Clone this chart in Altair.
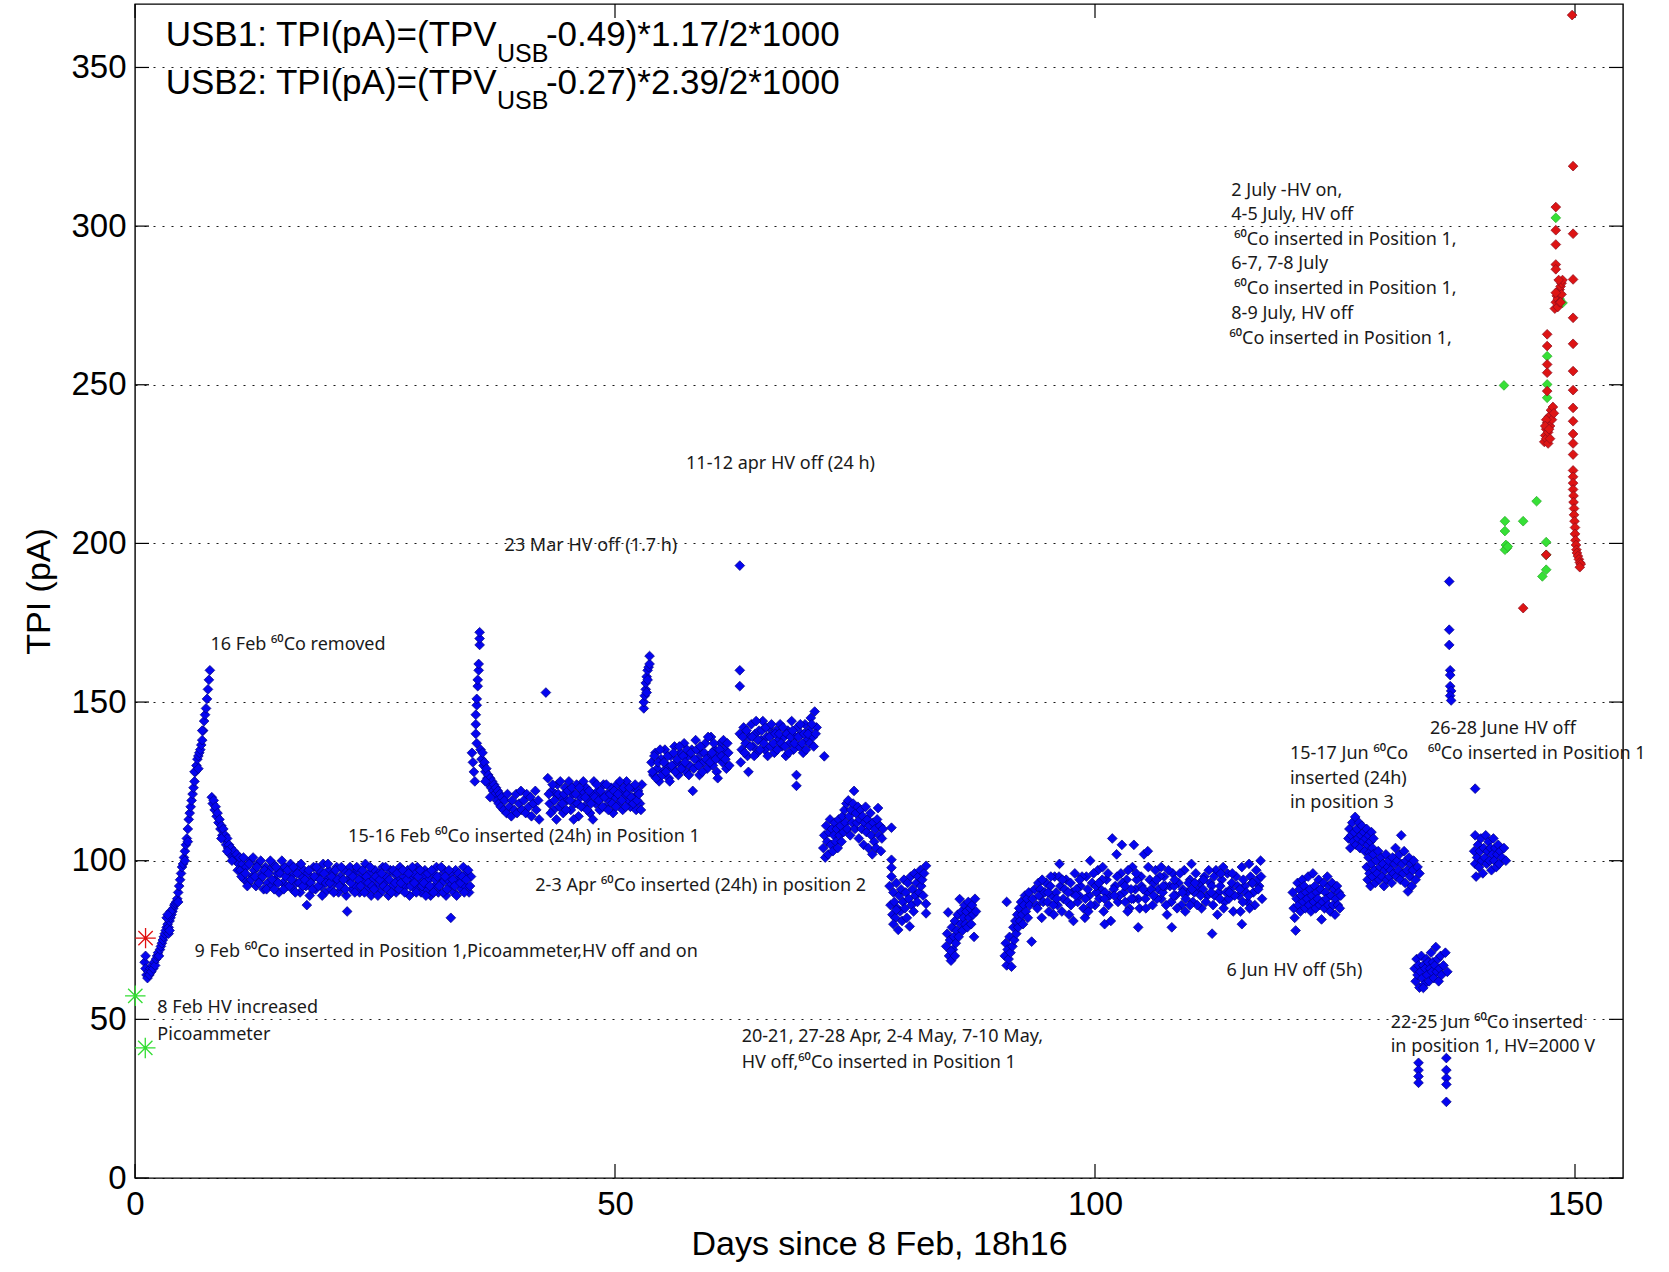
import altair as alt
import pandas as pd

# ---------------- data ----------------
# blue series (TPI, pA) by segment: (days, pA)
SEG_A = [(1.0,68),(1.1,70),(1.1,66),(1.2,64),(1.3,63),(1.4,65),(1.5,64),(1.6,66),(1.7,65),(1.8,67),
         (1.9,66),(2.0,68),(2.1,67),(2.2,69),(2.3,70),(2.4,71),(2.5,70),(2.6,72),(2.7,73),(2.8,74),
         (2.9,75),(3.0,76),(3.1,77),(3.2,78),(3.3,79),(3.4,80),(3.5,79),(3.6,81),(3.7,82),(3.8,83),
         (3.9,84),(4.0,85),(4.1,86),(4.2,86.5),(4.3,87),(4.4,88),(4.5,90),(4.6,92),(4.7,94),(4.8,96),
         (4.9,98),(5.0,99),(5.1,101),(5.2,103),(5.3,105),(5.4,107),(5.5,110),(5.6,113),(5.7,115),(5.8,117),
         (5.9,119),(6.0,121),(6.1,123),(6.2,125),(6.3,128),(6.4,130),(6.5,132),(6.6,133),(6.7,134),(6.8,135),
         (6.9,136.5),(7.0,138),(7.1,141),(7.2,144),(7.3,146),(7.4,148),(7.5,151),(7.6,154),(7.7,157),(7.8,160),
         (3.3,82),(3.5,77),(3.7,84),(3.4,83),(3.6,78),(4.5,87),(5.2,100),(5.5,106),(6.2,128),(6.6,129),(7.0,141)]
SEG_B = [(8.0,120),(8.1,118),(8.2,119),(8.3,116),(8.4,117),(8.5,114),(8.6,115),(8.7,112),(8.8,113),(8.9,110),
         (9.0,111),(9.1,108),(9.2,110),(9.3,107),(9.4,108),(9.5,105),(9.6,107),(9.7,104),(9.8,105),(9.9,102),
         (10.0,104),(10.2,101),(10.3,103),(10.5,100),(10.6,102),(10.8,99),(10.9,101),(11.0,97),(9.0,107),
         (9.6,103),(10.1,100),(10.7,97)]
SEG_C1 = [(11.0,97),(11.2,99),(11.4,94),(11.6,98),(11.8,93),(12.0,100),(12.2,95),(12.4,97),(12.6,92),(12.8,99),
          (13.0,94),(13.2,96),(13.4,91),(13.6,98),(13.8,93),(14.0,97),(14.2,92),(14.4,99),(14.6,94),(14.8,96),
          (15.0,90),(15.2,97),(15.4,93),(15.6,98),(15.8,92),(16.0,95),(16.2,99),(16.4,91),(16.6,96),(16.8,93),
          (17.0,98),(17.2,90),(17.4,95),(17.6,97),(17.8,92),(18.0,96),(18.2,89),(18.4,94),(18.6,98),(18.8,91),
          (19.0,95),(19.2,97),(19.4,92),(19.6,99),(19.8,90),(20.0,94),(20.2,97),(20.4,91),(20.6,96),(20.8,93),
          (21.0,98),(21.2,90),(21.4,95),(21.6,92),(21.8,97),(22.0,89),(22.2,94),(22.4,98),(22.6,91),(22.8,96),
          (23.0,92),(23.2,97),(23.4,90),(23.6,95),(23.8,93),(24.0,99),(24.2,91),(24.4,96),(24.6,89),(24.8,94),
          (25.0,97),(25.2,92),(25.4,96),(25.6,90),(25.8,98),(26.0,93),(26.2,95),(26.4,89),(26.6,97),(26.8,92),
          (27.0,96),(27.2,90),(27.4,94),(27.6,98),(27.8,91),(28.0,95),(28.2,92),(28.4,97),(28.6,89),(28.8,94),
          (29.0,96),(29.2,91),(29.4,98),(29.6,93),(29.8,90),(30.0,95),(30.2,97),(30.4,91),(30.6,94),(30.8,89),
          (31.0,96),(31.2,92),(31.4,98),(31.6,90),(31.8,95),(32.0,93),(32.2,97),(32.4,89),(32.6,94),(32.8,92),
          (33.0,96),(33.2,90),(33.4,97),(33.6,93),(33.8,95),(34.0,91),(34.2,98),(34.4,92),(34.6,96),(34.8,90),
          (35.0,95)]
SEG_C2 = [(11.1,95),(11.3,101),(11.5,96),(11.7,92),(11.9,99),(12.1,94),(12.3,101),(12.5,95),(12.7,98),(12.9,93),
          (13.1,100),(13.3,95),(13.5,97),(13.7,91),(13.9,96),(14.1,100),(14.3,94),(14.5,91),(14.7,98),(14.9,93),
          (15.1,96),(15.3,100),(15.5,91),(15.7,95),(15.9,97),(16.1,92),(16.3,94),(16.5,98),(16.7,90),(16.9,96),
          (17.1,93),(17.3,99),(17.5,92),(17.7,94),(17.9,86),(18.1,97),(18.3,93),(18.5,91),(18.7,95),(18.9,98),
          (19.1,92),(19.3,94),(19.5,89),(19.7,96),(19.9,93),(20.1,99),(20.3,93),(20.5,95),(20.7,90),(20.9,97),
          (21.1,94),(21.3,92),(21.5,98),(21.7,94),(21.9,91),(22.1,84),(22.3,96),(22.5,93),(22.7,95),(22.9,90),
          (23.1,98),(23.3,94),(23.5,92),(23.7,97),(23.9,90),(24.1,95),(24.3,93),(24.5,98),(24.7,92),(24.9,91),
          (25.1,95),(25.3,89),(25.5,94),(25.7,96),(25.9,92),(26.1,98),(26.3,91),(26.5,94),(26.7,90),(26.9,97),
          (27.1,93),(27.3,96),(27.5,91),(27.7,93),(27.9,97),(28.1,90),(28.3,94),(28.5,96),(28.7,92),(28.9,98),
          (29.1,93),(29.3,90),(29.5,95),(29.7,97),(29.9,92),(30.1,93),(30.3,89),(30.5,96),(30.7,92),(30.9,97),
          (31.1,90),(31.3,94),(31.5,95),(31.7,92),(31.9,98),(32.1,90),(32.3,95),(32.5,91),(32.7,97),(32.9,82),
          (33.1,94),(33.3,92),(33.5,89),(33.7,96),(33.9,93),(34.1,95),(34.3,90),(34.5,94),(34.7,97),(34.9,92)]
SEG_D = [(35.1,134),(35.2,131),(35.3,128),(35.5,140),(35.5,143),(35.5,146),(35.6,149),(35.6,151),(35.7,155),
         (35.7,157),(35.8,160),(35.8,162),(35.9,168),(35.9,170),(35.9,172),(35.6,137),(35.4,125)]
SEG_E = [(36.0,135),(36.1,132),(36.2,134),(36.3,130),(36.4,131),(36.5,128),(36.6,129),(36.7,126),(36.8,127),
         (36.9,124),(37.0,126),(37.1,123),(37.2,125),(37.3,122),(37.4,124),(37.5,121),(37.6,123),(37.7,119),
         (37.8,122),(37.9,118),(38.0,121),(38.1,117),(38.2,120),(38.4,116),(38.5,119),(38.7,115),(38.8,121),
         (39.0,117),(39.2,114),(39.3,119),(39.5,116),(39.7,121),(39.8,115),(40.0,118),(40.2,122),(40.3,116),
         (40.5,119),(40.7,115),(40.8,121),(41.0,117),(41.2,120),(41.3,114),(41.5,118),(41.7,122),(41.8,116),
         (42.0,119),(42.1,113),(36.5,125),(37.0,120),(42.8,153)]
SEG_G = [(43.0,126),(43.2,118),(43.4,122),(43.6,116),(43.8,121),(44.0,124),(44.2,117),(44.4,120),(44.6,115),
         (44.8,123),(45.0,119),(45.2,125),(45.4,116),(45.6,121),(45.8,118),(46.0,124),(46.2,114),(46.4,120),
         (46.6,122),(46.8,117),(47.0,123),(47.2,119),(47.4,115),(47.6,121),(47.8,125),(48.0,118),(48.2,122),
         (48.4,116),(48.6,120),(48.8,124),(49.0,117),(49.2,121),(49.4,119),(49.6,123),(49.8,115),(50.0,120),
         (50.2,124),(50.4,118),(50.6,122),(50.8,116),(51.0,121),(51.2,125),(51.4,119),(51.6,117),(51.8,123),
         (52.0,120),(52.2,116),(52.4,122),(52.6,118),(52.8,124),
         (43.1,121),(43.3,115),(43.5,124),(43.7,119),(43.9,113),(44.1,121),(44.3,125),(44.5,118),(44.7,121),
         (44.9,116),(45.1,122),(45.3,119),(45.5,123),(45.7,113),(45.9,121),(46.1,118),(46.3,123),(46.5,117),
         (46.7,125),(46.9,120),(47.1,116),(47.3,122),(47.5,118),(47.7,113),(47.9,120),(48.1,124),(48.3,119),
         (48.5,122),(48.7,117),(48.9,120),(49.1,124),(49.3,116),(49.5,121),(49.7,118),(49.9,122),(50.1,117),
         (50.3,121),(50.5,125),(50.7,119),(50.9,123),(51.1,117),(51.3,121),(51.5,123),(51.7,120),(51.9,118),
         (52.1,124),(52.3,119),(52.5,121),(52.7,116)]
SEG_H = [(53.0,148),(53.0,150),(53.1,152),(53.2,154),(53.2,156),(53.3,158),(53.4,157),(53.4,160),(53.5,161),
         (53.6,162),(53.6,164.5),(53.3,153)]
SEG_I = [(53.8,131),(54.0,127),(54.2,134),(54.4,129),(54.6,125),(54.8,132),(55.0,128),(55.2,135),(55.4,130),
         (55.6,126),(55.8,133),(56.0,129),(56.2,136),(56.4,131),(56.6,127),(56.8,134),(57.0,130),(57.2,137),
         (57.4,128),(57.6,133),(57.8,130),(58.0,135),(58.2,129),(58.4,138),(58.6,132),(58.8,127),(59.0,134),
         (59.2,131),(59.4,137),(59.6,129),(59.8,133),(60.0,139),(60.2,130),(60.4,135),(60.6,128),(60.8,133),
         (61.0,137),(61.2,131),(61.4,135),(61.6,129),(61.8,134),
         (53.9,128),(54.1,133),(54.3,126),(54.5,131),(54.7,135),(54.9,127),(55.1,131),(55.3,128),(55.5,133),
         (55.7,125),(55.9,130),(56.1,134),(56.3,128),(56.5,132),(56.7,136),(56.9,129),(57.1,133),(57.3,131),
         (57.5,135),(57.7,127),(57.9,134),(58.1,122),(58.3,132),(58.5,135),(58.7,130),(58.9,136),(59.1,128),
         (59.3,134),(59.5,132),(59.7,139),(59.9,131),(60.1,134),(60.3,137),(60.5,132),(60.7,126),(60.9,135),
         (61.1,133),(61.3,138),(61.5,132),(61.7,137),(61.9,130)]
SEG_J = [(63.0,193),(63.0,160),(63.0,155)]
SEG_K = [(63.0,140),(63.2,135),(63.4,142),(63.6,137),(63.8,133),(64.0,139),(64.2,143),(64.4,136),(64.6,140),
         (64.8,134),(65.0,141),(65.2,138),(65.4,144),(65.6,135),(65.8,139),(66.0,142),(66.2,136),(66.4,140),
         (66.6,134),(66.8,141),(67.0,138),(67.2,143),(67.4,136),(67.6,139),(67.8,133),(68.0,141),(68.2,137),
         (68.4,144),(68.6,135),(68.8,139),(69.0,142),(69.2,136),(69.4,140),(69.6,134),(69.8,143),(70.0,138),
         (70.2,141),(70.4,145),(70.6,139),(70.8,147),(71.0,142),
         (63.1,131),(63.3,139),(63.5,134),(63.7,141),(63.9,128),(64.1,136),(64.3,139),(64.5,133),(64.7,144),
         (64.9,138),(65.1,135),(65.3,141),(65.5,137),(65.7,142),(65.9,133),(66.1,139),(66.3,143),(66.5,137),
         (66.7,140),(66.9,135),(67.1,140),(67.3,137),(67.5,142),(67.7,136),(67.9,140),(68.1,134),(68.3,139),
         (68.5,141),(68.7,137),(68.9,127),(69.1,139),(69.3,143),(69.5,137),(69.7,140),(69.9,135),(70.1,140),
         (70.3,137),(70.5,143),(70.7,136),(70.9,140),(68.9,123.6),(71.8,132.9)]
SEG_L = [(71.7,104),(71.8,108),(71.9,101),(72.0,111),(72.1,106),(72.2,102),(72.3,109),(72.4,113),(72.5,105),
         (72.6,110),(72.7,103),(72.8,108),(72.9,112),(73.0,106),(73.1,110),(73.2,104),(73.3,113),(73.4,108),
         (73.5,111),(73.6,106),(73.7,114),(73.8,109),(73.9,116),(74.0,112),(74.1,118),(74.2,110),(74.3,119),
         (74.4,114),(74.5,108),(74.6,116),(74.7,112),(74.8,118),(74.9,122),(75.0,110),(75.1,115),(75.2,112),
         (75.3,117),(75.4,107),(75.5,113),(75.6,116),(75.7,110),(75.8,114),(75.9,105),(76.0,112),(76.1,117),
         (76.2,109),(76.3,113),(76.4,104),(76.5,111),(76.6,115),(76.7,108),(76.8,102),(76.9,112),(77.0,106),
         (77.1,110),(77.2,104),(77.3,113),(77.4,116.6),(77.5,108),(77.6,111),(77.7,103),(77.8,107),(77.9,110),
         (78.8,110.4),(78.8,100.3),(78.8,97.8)]
SEG_M = [(78.6,92),(78.7,86),(78.8,95),(78.9,83),(79.0,90),(79.1,87),(79.2,82),(79.3,93),(79.4,85),(79.5,78.2),
         (79.6,89),(79.7,84),(79.8,91),(79.9,81),(80.0,87),(80.1,94),(80.2,85),(80.3,90),(80.4,82),(80.5,93),
         (80.6,88),(80.7,79.3),(80.8,95),(80.9,86),(81.0,91),(81.1,84),(81.2,96),(81.3,89),(81.4,93),(81.5,87),
         (81.6,95),(81.7,90),(81.8,97),(81.9,92),(82.0,94),(82.1,89),(82.2,96),(82.4,98.4),(82.4,86.4),
         (82.4,83.4),(79.0,80),(79.3,84.5)]
SEG_N = [(84.5,73),(84.6,77),(84.7,83.7),(84.8,70),(84.9,75),(85.0,68.5),(85.1,79),(85.2,72),(85.3,76),
         (85.4,81),(85.5,74),(85.6,78),(85.7,83),(85.8,76),(85.9,87.9),(86.0,80),(86.1,84),(86.2,78),(86.3,82),
         (86.4,86),(86.5,80),(86.6,84),(86.7,79),(86.8,87),(86.9,82),(87.0,85),(87.1,80),(87.2,86),(87.3,83),
         (87.4,76),(87.5,88),(87.6,84),(85.0,71.5),(85.4,70)]
SEG_O = [(90.6,70),(90.7,74),(90.8,87),(90.8,67),(90.9,72),(91.0,69),(91.1,76),(91.2,71),(91.3,66.6),(91.4,73),
         (91.5,79),(91.6,75),(91.7,81),(91.8,77),(91.9,83),(92.0,79),(92.1,85),(92.2,81),(92.3,87),(92.4,83),
         (92.5,80),(92.6,86),(92.7,89),(92.8,84),(92.9,88),(93.0,82),(93.1,90),(93.2,86),(93.4,74.5),(93.5,88),
         (93.7,91),(93.9,86),(94.1,93),(94.3,89)]
SEG_P = [(94.0,85),(94.3,91),(94.6,87),(94.9,93),(95.2,84),(95.5,89),(95.8,95),(96.1,86),(96.4,92),(96.7,88),
         (97.0,94),(97.3,83),(97.6,90),(97.9,96),(98.2,87),(98.5,92),(98.8,85),(99.1,95),(99.4,89),(99.7,93),
         (100.0,86),(100.3,97),(100.6,91),(100.9,84),(101.2,94),(101.5,89),(101.8,107),(102.1,92),(102.4,87),
         (102.7,96),(103.0,90),(103.3,94),(103.6,85),(103.9,98),(104.2,91),(104.5,88),(104.8,95),(105.1,102),
         (105.4,90),(105.7,94),(106.0,86),(106.3,97),(106.6,91),(106.9,88),(107.2,95),(107.5,83),(107.8,92),
         (108.1,96),(108.4,89),(108.7,93),(109.0,86),(109.3,97),(109.6,90),(109.9,94),(110.2,87),(110.5,96),
         (110.8,91),(111.1,85),(111.4,95),(111.7,89),(112.0,93),(112.3,86),(112.6,97),(112.9,90),(113.2,94),
         (113.5,87),(113.8,96),(114.1,91),(114.4,84),(114.7,95),(115.0,89),(115.3,98),(115.6,92),(115.9,87),
         (116.2,95),(116.5,90),(116.8,97),(117.1,92),(117.4,88),
         (94.15,89),(94.45,82),(94.75,90),(95.05,87),(95.35,92),(95.65,86),(95.95,90),(96.25,95),(96.55,84),
         (96.85,91),(97.15,87),(97.45,93),(97.75,81),(98.05,91),(98.35,89),(98.65,95),(98.95,82),(99.25,91),
         (99.55,86),(99.85,96),(100.15,90),(100.45,88),(100.75,94),(101.05,90),(101.35,96),(101.65,81),
         (101.95,91),(102.25,102),(102.55,89),(102.85,93),(103.15,87),(103.45,97),(103.75,91),(104.05,105),
         (104.35,94),(104.65,85),(104.85,92),(105.25,88),(105.55,98),(105.85,91),(106.15,93),(106.45,88),
         (106.75,95),(107.05,90),(107.35,92),(107.65,97),(107.95,87),(108.25,92),(108.55,85),(108.85,96),
         (109.15,91),(109.45,88),(109.75,93),(110.05,99),(110.35,90),(110.65,86),(110.95,93),(111.25,91),
         (111.55,87),(111.85,97),(112.15,92),(112.45,89),(112.75,83),(113.05,92),(113.35,98),(113.65,90),
         (113.95,88),(114.25,93),(114.55,89),(114.85,92),(115.15,84),(115.45,94),(115.75,90),(116.05,99),
         (116.35,93),(116.65,86),(116.95,94),(117.25,100),
         (102.8,105),(105.5,103),(101.0,80),(104.5,79),(108.0,79),(112.2,77),(115.3,80),(96.3,99),(99.5,100),
         (95.1,90),(96.0,88),(97.2,90),(98.0,89),(99.0,88),(100.1,92),(101.0,88),(102.0,89),(103.1,92),
         (104.0,88),(105.0,91),(106.1,89),(107.1,92),(108.2,89),(109.1,90),(110.1,91),(111.0,89),(112.1,90),
         (113.0,88),(114.0,90),(115.1,91),(116.0,89),(117.0,91),
         (94.5,94),(95.4,95),(96.6,94),(97.5,86),(98.4,94),(99.3,84),(100.4,93),(101.4,86),(102.3,95),
         (103.4,84),(104.3,96),(105.3,85),(106.4,94),(107.4,86),(108.3,94),(109.4,84),(110.4,93),(111.3,94),
         (112.4,95),(113.4,85),(114.3,96),(115.4,87),(116.4,93),(117.3,95),(95.7,83),(100.8,98),(103.8,88),
         (106.9,98),(109.9,86),(113.1,96),(116.1,85)]
SEG_Q = [(120.6,90),(120.7,85),(120.8,82),(120.9,78),(121.0,88),(121.1,93),(121.2,86),(121.3,91),(121.4,84),
         (121.5,89),(121.6,94),(121.7,87),(121.8,92),(121.9,85),(122.0,90),(122.1,88),(122.2,95),(122.3,86),
         (122.4,91),(122.5,84),(122.6,89),(122.7,96),(122.8,87),(122.9,92),(123.0,85),(123.1,90),(123.2,88),
         (123.3,94),(123.4,86),(123.6,81.5),(123.5,91),(123.7,87),(123.8,93),(123.9,85),(124.0,90),(124.1,88),
         (124.2,95),(124.3,86),(124.4,92),(124.5,84),(124.6,89),(124.7,93),(124.8,86),(124.9,91),(125.0,83),
         (125.1,88),(125.2,92),(125.3,86),(125.4,90),(125.5,85),(125.6,89)]
SEG_R = [(126.4,107),(126.5,110),(126.6,104),(126.7,108),(126.8,112),(126.9,106),(127.0,109),(127.1,113.8),
         (127.2,105),(127.3,110),(127.4,107),(127.5,112),(127.6,104),(127.7,108),(127.8,111),(127.9,106),
         (128.0,109),(128.1,103),(128.2,107),(128.3,110),(128.4,105),(128.5,108),(128.6,102.5),(128.7,106),
         (128.8,109),(128.9,104),(129.0,107)]
SEG_S = [(128.3,98),(128.4,94),(128.5,101),(128.6,96),(128.7,92),(128.8,99),(128.9,95),(129.0,102),(129.1,97),
         (129.2,93),(129.3,100),(129.4,96),(129.5,103),(129.6,94),(129.7,98),(129.8,101),(129.9,95),(130.0,99),
         (130.1,92),(130.2,97),(130.3,102),(130.4,94),(130.5,98),(130.6,100),(130.7,95),(130.8,97),(130.9,93),
         (131.0,101),(131.1,96),(131.2,99),(131.3,104),(131.4,95),(131.5,100),(131.6,97),(131.7,102),(131.8,94),
         (131.9,108),(132.0,99),(132.1,96),(132.2,103),(132.3,93),(132.4,100),(132.5,97),(132.6,90.3),
         (132.7,101),(132.8,95),(132.9,99),(133.0,92),(133.1,97),(133.2,100),(133.4,94),(133.6,98),(133.8,96)]
SEG_T = [(133.3,66),(133.4,62),(133.5,69),(133.6,64),(133.7,67),(133.8,60),(133.9,65),(134.0,70),(134.1,63),
         (134.2,67),(134.3,61),(134.4,66),(134.5,69),(134.6,64),(134.7,68),(134.8,62),(134.9,66),(135.0,71),
         (135.1,65),(135.2,68),(135.3,63),(135.4,67),(135.5,72.8),(135.6,65),(135.7,69),(135.8,62),(135.9,66),
         (136.0,70),(136.1,64),(136.3,67),(136.5,71),(136.7,65),(134.2,59.9)]
SEG_U = [(133.7,36.3),(133.7,34),(133.7,32),(133.7,30),(136.6,37.8),(136.6,34),(136.6,31.5),(136.6,29.5),
         (136.6,24)]
SEG_V = [(136.9,188),(136.9,172.8),(136.9,168),(137.0,160),(137.0,158.5),(137.0,155),(137.1,153.5),
         (137.0,152),(137.1,150.5)]
SEG_W = [(139.6,122.7),(139.6,108),(139.5,103),(139.6,99),(139.7,95),(139.8,101),(139.9,105),(140.0,98),
         (140.1,103),(140.2,107),(140.3,100),(140.4,96),(140.5,104),(140.6,101),(140.7,108),(140.8,99),
         (140.9,103),(141.0,106),(141.1,100),(141.2,104),(141.3,97),(141.4,102),(141.5,107),(141.6,100),
         (141.7,104),(141.8,98),(141.9,102),(142.0,105),(142.1,99),(142.2,103),(142.4,101),(142.6,104),
         (142.8,100)]

GREEN = [(142.6,249.8),(142.7,207),(142.7,203.9),(142.8,199.5),(142.9,198.5),(142.7,198),(143.0,199),
         (144.6,207),(146.0,213.3),(147.0,200.4),(147.0,196.4),(147.0,191.7),(146.6,189.6),(147.1,259),
         (147.1,250.1),(147.1,245.9),(148.0,302.6),(148.7,275.8),(148.4,277),(147.4,240)]
RED = [(144.6,179.6),(148.0,306.0),(148.0,298.7),(148.0,294.2),(148.0,287.9),(148.0,286.4),
       (147.9,274),(148.0,276),(148.1,278),(148.2,277),(148.3,279),(148.4,280),(148.5,281),(148.6,282),
       (148.7,283),(148.2,274.5),(148.4,276),(148.6,278.5),(148.0,279),(148.3,283),(148.5,276),
       (147.1,265.9),(147.1,262.2),(147.1,256.4),(147.1,253.8),(147.1,248),
       (146.8,232),(146.9,234),(147.0,236),(147.0,233),(147.1,238),(147.2,235),(147.3,240),(147.4,237),
       (147.5,242),(147.2,231.5),(147.6,239),(147.7,243),(147.8,241),(147.4,233),(147.0,239),(146.9,237),
       (147.3,236),(147.0,196.4),
       (149.7,366.5),(149.8,318.9),(149.8,297.6),(149.8,283.2),(149.8,271.1),(149.8,262.9),(149.8,254.3),
       (149.8,248.3),(149.8,242.7),(149.8,238.5),(149.8,234.5),(149.8,231.5),(149.8,228),(149.8,223),
       (149.8,221),(149.8,219),(149.8,217),(149.85,215),(149.85,213),(149.9,211),(149.9,209),(149.95,207),
       (150.0,205),(150.0,203),(150.05,201),(150.1,199.5),(150.15,198),(150.2,197),(150.3,196),(150.4,195),
       (150.5,194),(150.6,193.5),(150.5,192.5)]
STARS = [(0.03, 57.4, "green"), (1.07, 41.0, "green"), (1.1, 75.6, "red")]

SUP = "\u2076\u2070"
ANNOT = [
    (7.87, 166.5, "16 Feb " + SUP + "Co removed"),
    (22.2, 106.0, "15-16 Feb " + SUP + "Co inserted (24h) in Position 1"),
    (41.7, 90.6, "2-3 Apr " + SUP + "Co inserted (24h) in position 2"),
    (6.2, 69.5, "9 Feb " + SUP + "Co inserted in Position 1,Picoammeter,HV off and on"),
    (2.33, 52.0, "8 Feb HV increased"),
    (2.33, 43.6, "Picoammeter"),
    (38.5, 197.7, "23 Mar HV off (1.7 h)"),
    (57.4, 223.5, "11-12 apr HV off (24 h)"),
    (63.2, 43.0, "20-21, 27-28 Apr, 2-4 May, 7-10 May,"),
    (63.2, 34.6, "HV off," + SUP + "Co inserted in Position 1"),
    (113.7, 63.8, "6 Jun HV off (5h)"),
    (120.3, 132.2, "15-17 Jun " + SUP + "Co"),
    (120.3, 124.2, "inserted (24h)"),
    (120.3, 116.5, "in position 3"),
    (134.9, 140.0, "26-28 June HV off"),
    (134.7, 131.9, SUP + "Co inserted in Position 1"),
    (130.8, 47.3, "22-25 Jun " + SUP + "Co inserted"),
    (130.8, 39.6, "in position 1, HV=2000 V"),
    (114.2, 309.4, "2 July -HV on,"),
    (114.2, 302.0, "4-5 July, HV off"),
    (114.5, 294.0, SUP + "Co inserted in Position 1,"),
    (114.2, 286.6, "6-7, 7-8 July"),
    (114.5, 278.5, SUP + "Co inserted in Position 1,"),
    (114.2, 270.8, "8-9 July, HV off"),
    (114.0, 262.8, SUP + "Co inserted in Position 1,"),
]
FORMULA_MAIN = [(3.2, 356.8, "USB1: TPI(pA)=(TPV"), (3.2, 341.5, "USB2: TPI(pA)=(TPV")]
FORMULA_SUB = [(37.7, 351.6, "USB"), (37.7, 336.8, "USB")]
FORMULA_TAIL = [(42.8, 356.8, "-0.49)*1.17/2*1000"), (42.8, 341.5, "-0.27)*2.39/2*1000")]

X_TICKS = [0, 50, 100, 150]
Y_TICKS = [0, 50, 100, 150, 200, 250, 300, 350]

# ---------------- chart ----------------
W, H = 1488, 1174
FONT = "Liberation Sans"
AFONT = "Noto Sans"
xs = alt.Scale(domain=[0, 155], nice=False, zero=False)
ys = alt.Scale(domain=[0, 370], nice=False, zero=False)
x_axis = alt.Axis(values=X_TICKS, ticks=False, domain=False, grid=False, labelFontSize=33,
                  labelPadding=10, labelColor="black", labelFlush=False, title="Days since 8 Feb, 18h16",
                  titleFontSize=34, titleFontWeight="normal", titleColor="black", titlePadding=6,
                  labelFont=FONT, titleFont=FONT)
y_axis = alt.Axis(values=Y_TICKS, ticks=False, domain=False, grid=True, gridColor="black",
                  gridDash=[2, 7], gridWidth=1.1, gridOpacity=0.9, labelFontSize=33, labelPadding=9,
                  labelColor="black", labelFlush=False, title="TPI (pA)", titleFontSize=34,
                  titleFontWeight="normal", titleColor="black", titlePadding=14, labelFont=FONT,
                  titleFont=FONT)
X = alt.X("x:Q", scale=xs, axis=x_axis)
Y = alt.Y("y:Q", scale=ys, axis=y_axis)

def frame(rows):
    return pd.DataFrame(rows, columns=["x", "y"])

blue_rows = (SEG_A + SEG_B + SEG_C1 + SEG_C2 + SEG_D + SEG_E + SEG_G + SEG_H + SEG_I + SEG_J + SEG_K +
             SEG_L + SEG_M + SEG_N + SEG_O + SEG_P + SEG_Q + SEG_R + SEG_S + SEG_T + SEG_U + SEG_V + SEG_W)

grid_layer = alt.Chart(frame([(0, 0)])).mark_point(opacity=0).encode(x=X, y=Y)

MS = 95
blue = alt.Chart(frame(blue_rows)).mark_point(
    shape="diamond", filled=True, size=MS, fill="#0505f0", stroke="#000080", strokeWidth=0.7, opacity=1
).encode(x=X, y=Y)
green = alt.Chart(frame(GREEN)).mark_point(
    shape="diamond", filled=True, size=MS, fill="#36e036", stroke="#2aa82a", strokeWidth=0.7, opacity=1
).encode(x=X, y=Y)
red = alt.Chart(frame(RED)).mark_point(
    shape="diamond", filled=True, size=MS, fill="#dd1414", stroke="#8a0c1c", strokeWidth=0.7, opacity=1
).encode(x=X, y=Y)

star_df = pd.DataFrame(STARS, columns=["x", "y", "c"])
ASTER = "M-1,0L1,0M0,-1L0,1M-0.7,-0.7L0.7,0.7M-0.7,0.7L0.7,-0.7"
stars = alt.Chart(star_df).mark_point(shape=ASTER, filled=False, size=420, strokeWidth=1.3, opacity=1).encode(
    x=X, y=Y,
    stroke=alt.Stroke("c:N", scale=alt.Scale(domain=["green", "red"], range=["#33dd33", "#e01010"]), legend=None),
)

ann = alt.Chart(pd.DataFrame(ANNOT, columns=["x", "y", "t"])).mark_text(
    align="left", baseline="alphabetic", fontSize=18, font=AFONT, color="#1a1a1a"
).encode(x=X, y=Y, text="t:N")

f_main = alt.Chart(pd.DataFrame(FORMULA_MAIN, columns=["x", "y", "t"])).mark_text(
    align="left", baseline="alphabetic", fontSize=35, font=FONT, color="black"
).encode(x=X, y=Y, text="t:N")
f_sub = alt.Chart(pd.DataFrame(FORMULA_SUB, columns=["x", "y", "t"])).mark_text(
    align="left", baseline="alphabetic", fontSize=25, font=FONT, color="black"
).encode(x=X, y=Y, text="t:N")
f_tail = alt.Chart(pd.DataFrame(FORMULA_TAIL, columns=["x", "y", "t"])).mark_text(
    align="left", baseline="alphabetic", fontSize=35, font=FONT, color="black"
).encode(x=X, y=Y, text="t:N")

xt = pd.DataFrame({"x": X_TICKS})
yt = pd.DataFrame({"y": Y_TICKS})
TL = 14
tick_b = alt.Chart(xt).mark_rule(color="black", strokeWidth=1.2).encode(x=X, y=alt.value(H), y2=alt.value(H - TL))
tick_t = alt.Chart(xt).mark_rule(color="black", strokeWidth=1.2).encode(x=X, y=alt.value(0), y2=alt.value(TL))
tick_l = alt.Chart(yt).mark_rule(color="black", strokeWidth=1.2).encode(y=Y, x=alt.value(0), x2=alt.value(TL))
tick_r = alt.Chart(yt).mark_rule(color="black", strokeWidth=1.2).encode(y=Y, x=alt.value(W), x2=alt.value(W - TL))

chart = alt.layer(
    grid_layer, tick_b, tick_t, tick_l, tick_r, ann, f_main, f_sub, f_tail, blue, green, red, stars
).properties(
    width=W, height=H,
    padding={"left": 135, "top": 4, "right": 46, "bottom": 94},
    autosize=alt.AutoSizeParams(type="none"),
    background="white",
).configure_view(stroke="black", strokeWidth=1.4)

chart.save("out.html", embed_options={"renderer": "svg", "actions": False})
